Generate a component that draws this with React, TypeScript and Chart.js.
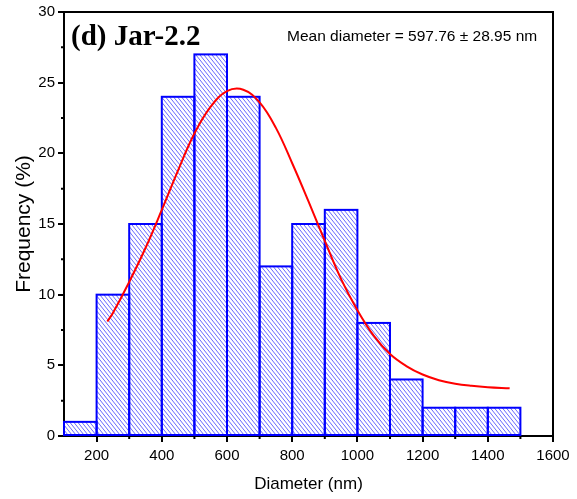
import { useEffect, useRef } from 'react';
import { Chart, registerables } from 'chart.js';

Chart.register(...registerables);

// Histogram bins (nm) and their share of particles (%)
const binCenters = [150, 250, 350, 450, 550, 650, 750, 850, 950, 1050, 1150, 1250, 1350, 1450];
const frequency = [1, 10, 15, 24, 27, 24, 12, 15, 16, 8, 4, 2, 2, 2];

// Fitted distribution curve
const fitDiameter = [233, 250, 300, 350, 400, 450, 500, 550, 600, 650, 700, 750, 800, 850, 900, 950, 1000, 1050, 1100, 1150, 1200, 1250, 1300, 1350, 1400, 1467];
const fitFrequency = [8.1, 8.7, 10.9, 13.3, 16.0, 18.8, 21.4, 23.3, 24.4, 24.5, 23.6, 21.8, 19.3, 16.6, 13.8, 11.1, 8.9, 7.1, 5.8, 4.95, 4.35, 3.95, 3.7, 3.55, 3.45, 3.37];

// Axis ticks
const xMajorTicks = [200, 400, 600, 800, 1000, 1200, 1400, 1600];
const xMinorTicks = [300, 500, 700, 900, 1100, 1300, 1500];
const yMajorTicks = [0, 5, 10, 15, 20, 25, 30];
const yMinorTicks = [2.5, 7.5, 12.5, 17.5, 22.5, 27.5];

const panelLabel = '(d) Jar-2.2';
const meanLabel = 'Mean diameter = 597.76 \u00b1 28.95 nm';
const xTitle = 'Diameter (nm)';
const yTitle = 'Frequency (%)';

const SANS = '"Liberation Sans", Arial, sans-serif';
const SERIF = '"Liberation Serif", "Times New Roman", serif';

function makeHatch(): CanvasPattern | string {
  const w = 4;
  const h = 5;
  const tile = document.createElement('canvas');
  tile.width = w;
  tile.height = h;
  const t = tile.getContext('2d');
  if (!t) return 'rgba(0,0,255,0.3)';
  t.fillStyle = '#ffffff';
  t.fillRect(0, 0, w, h);
  t.strokeStyle = 'rgba(0,0,255,0.6)';
  t.lineWidth = 1;
  for (const dx of [-w, 0, w]) {
    t.beginPath();
    t.moveTo(dx - w, -h);
    t.lineTo(dx + 2 * w, 2 * h);
    t.stroke();
  }
  const p = t.createPattern(tile, 'repeat');
  return p || 'rgba(0,0,255,0.3)';
}

const decorPlugin = {
  id: 'histDecor',
  afterDatasetDraw(chart: any, args: any) {
    if (args.index !== 0) return;
    const ctx = chart.ctx;
    const meta = chart.getDatasetMeta(0);
    ctx.save();
    ctx.strokeStyle = '#0000ff';
    ctx.lineWidth = 2;
    meta.data.forEach((bar: any) => {
      const { x, y, base, width } = bar.getProps(['x', 'y', 'base', 'width'], true);
      ctx.strokeRect(x - width / 2, y, width, base - y);
    });
    ctx.restore();
  },
  afterDraw(chart: any) {
    const { ctx, chartArea: a, scales } = chart;
    ctx.save();
    ctx.strokeStyle = '#000';
    ctx.lineWidth = 2;
    ctx.beginPath();
    ctx.moveTo(a.left - 1, a.top);
    ctx.lineTo(a.right, a.top);
    ctx.lineTo(a.right, a.bottom + 1);
    ctx.stroke();

    // minor ticks
    ctx.beginPath();
    for (const v of xMinorTicks) {
      const px = scales.x.getPixelForValue(v);
      ctx.moveTo(px, a.bottom);
      ctx.lineTo(px, a.bottom + 3);
    }
    for (const v of yMinorTicks) {
      const py = scales.y.getPixelForValue(v);
      ctx.moveTo(a.left, py);
      ctx.lineTo(a.left - 3, py);
    }
    ctx.stroke();

    ctx.fillStyle = '#000';
    ctx.textBaseline = 'alphabetic';
    ctx.textAlign = 'left';
    ctx.font = `bold 29px ${SERIF}`;
    ctx.fillText(panelLabel, a.left + 7, a.top + 33);
    ctx.font = `15.5px ${SANS}`;
    ctx.fillText(meanLabel, 287, a.top + 29);
    ctx.restore();
  },
};

export default function App() {
  const ref = useRef<HTMLCanvasElement | null>(null);

  useEffect(() => {
    const canvas = ref.current;
    if (!canvas) return;
    const hatch = makeHatch();

    const chart = new Chart(canvas, {
      type: 'bar',
      data: {
        datasets: [
          {
            type: 'bar',
            data: binCenters.map((x, i) => ({ x, y: frequency[i] })),
            backgroundColor: hatch as any,
            borderWidth: 0,
            barPercentage: 1,
            categoryPercentage: 1,
            order: 2,
          },
          {
            type: 'line',
            data: fitDiameter.map((x, i) => ({ x, y: fitFrequency[i] })),
            borderColor: '#ff0000',
            borderWidth: 2,
            pointRadius: 0,
            tension: 0.4,
            fill: false,
            order: 1,
          } as any,
        ],
      },
      options: {
        responsive: false,
        animation: false,
        devicePixelRatio: 1,
        layout: { padding: { left: 0, top: 12, right: 24, bottom: 0 } },
        plugins: { legend: { display: false }, tooltip: { enabled: false } },
        scales: {
          x: {
            type: 'linear',
            min: 100,
            max: 1600,
            offset: false,
            afterBuildTicks: (s: any) => {
              s.ticks = xMajorTicks.map((v) => ({ value: v }));
            },
            afterFit: (s: any) => {
              s.height = 63;
            },
            grid: {
              display: true,
              offset: false,
              drawOnChartArea: false,
              drawTicks: true,
              tickLength: 6,
              lineWidth: 2,
              color: '#000',
            },
            border: { display: true, color: '#000', width: 2 },
            ticks: {
              color: '#000',
              font: { family: SANS, size: 15 },
              padding: 5,
              maxRotation: 0,
              autoSkip: false,
              callback: (v: any) => String(v),
            },
            title: {
              display: true,
              text: xTitle,
              color: '#000',
              font: { family: SANS, size: 17 },
              padding: { top: 0, bottom: 4 },
            },
          },
          y: {
            type: 'linear',
            min: 0,
            max: 30,
            afterBuildTicks: (s: any) => {
              s.ticks = yMajorTicks.map((v) => ({ value: v }));
            },
            afterFit: (s: any) => {
              s.width = 64;
            },
            grid: {
              display: true,
              drawOnChartArea: false,
              drawTicks: true,
              tickLength: 6,
              lineWidth: 2,
              color: '#000',
            },
            border: { display: true, color: '#000', width: 2 },
            ticks: {
              color: '#000',
              font: { family: SANS, size: 15 },
              padding: 3,
              callback: (v: any) => String(v),
            },
            title: {
              display: true,
              text: yTitle,
              color: '#000',
              font: { family: SANS, size: 21 },
              padding: { top: 12, bottom: 0 },
            },
          },
        },
      },
      plugins: [decorPlugin],
    });

    return () => chart.destroy();
  }, []);

  return (
    <div style={{ position: 'fixed', left: 0, top: 0, width: 577, height: 499, background: '#fff' }}>
      <canvas ref={ref} width={577} height={499} />
    </div>
  );
}
